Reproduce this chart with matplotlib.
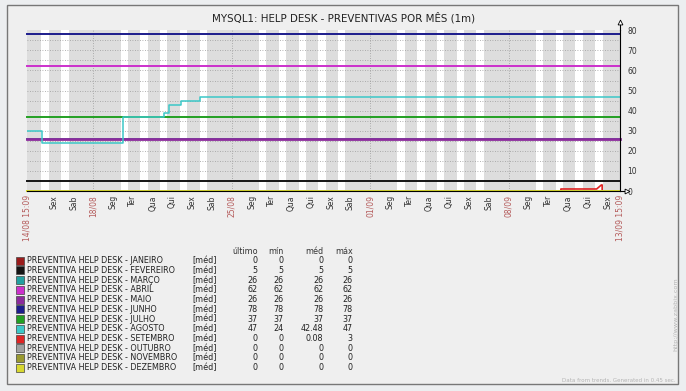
import numpy as np
import pandas as pd
import matplotlib
matplotlib.use("Agg")
import matplotlib.pyplot as plt
from matplotlib.patches import Rectangle

# time window of the graph
START = pd.Timestamp("2014-08-14 15:09")
END = pd.Timestamp("2014-09-13 15:09")

MONTHS = ["JANEIRO", "FEVEREIRO", "MARÇO", "ABRIL", "MAIO", "JUNHO",
          "JULHO", "AGOSTO", "SETEMBRO", "OUTUBRO", "NOVEMBRO", "DEZEMBRO"]
COLORS = ["#9a1c1c", "#141414", "#22a0a0", "#cc30cc", "#8c2a9c", "#1c1c8c",
          "#22a022", "#3cc8c8", "#e02424", "#a0a0a0", "#9a9a30", "#d8d830"]

# months that stayed flat over the whole period (None = see step series below)
FLAT_VALUES = [0, 5, 26, 62, 26, 78, 37, None, None, 0, 0, 0]

AGOSTO_TIMES = ["2014-08-14 15:09", "2014-08-15 09:45", "2014-08-19 12:20",
                "2014-08-21 13:45", "2014-08-21 19:30", "2014-08-22 10:20",
                "2014-08-23 09:20", "2014-09-13 15:09"]
AGOSTO_VALUES = [30, 24, 37, 39, 43, 45, 47, 47]

SETEMBRO_TIMES = ["2014-08-14 15:09", "2014-09-10 15:25", "2014-09-10 15:25",
                  "2014-09-12 10:50", "2014-09-12 16:30", "2014-09-12 17:30",
                  "2014-09-12 17:30", "2014-09-13 15:09"]
SETEMBRO_VALUES = [0, 0, 1, 1, 3, 3, 0, 0]

# legend statistics
ULTIMO = [0, 5, 26, 62, 26, 78, 37, 47, 0, 0, 0, 0]
MINIMO = [0, 5, 26, 62, 26, 78, 37, 24, 0, 0, 0, 0]
MEDIA = [0, 5, 26, 62, 26, 78, 37, 42.48, 0.08, 0, 0, 0]
MAXIMO = [0, 5, 26, 62, 26, 78, 37, 47, 3, 0, 0, 0]

# x labels at each midnight from 16/08 to 13/09
DAY_LABELS = ["Sex", "Sab", "18/08", "Seg", "Ter", "Qua", "Qui", "Sex", "Sab",
              "25/08", "Seg", "Ter", "Qua", "Qui", "Sex", "Sab", "01/09", "Seg",
              "Ter", "Qua", "Qui", "Sex", "Sab", "08/09", "Seg", "Ter", "Qua",
              "Qui", "Sex"]

W, H = 686, 391
fig = plt.figure(figsize=(W / 100, H / 100), dpi=100)
fig.patch.set_facecolor("#eceef0")


def fx(x):
    return x / W


def fy(y):
    return 1 - y / H


# outer frame
fig.patches.append(Rectangle((fx(7), fy(384)), fx(678) - fx(7), fy(5) - fy(384),
                             transform=fig.transFigure, facecolor="#efefef",
                             edgecolor="#777777", lw=1.0, zorder=-10))

ax = fig.add_axes([fx(26.7), fy(191), fx(620) - fx(26.7), fy(30.3) - fy(191)])
ax.set_zorder(1)
ax.set_facecolor("#dddddd")
ax.set_xlim(START, END)
ax.set_ylim(0, 80)

# working hours (white strips) on full days inside the window
for day in pd.date_range("2014-08-15", "2014-09-12", freq="D"):
    if (day - pd.Timedelta(days=1)).weekday() < 5:
        ax.axvspan(day + pd.Timedelta(hours=9), day + pd.Timedelta(hours=18),
                   color="white", lw=0, zorder=0)

# grid
for v in np.arange(5, 80, 5):
    ax.axhline(v, color="#9a9a9a", lw=0.6, ls=(0, (1, 2)), zorder=1)
ticks = list(pd.date_range("2014-08-16", "2014-09-13", freq="D"))
for t, lab in zip(ticks, DAY_LABELS):
    if "/" in lab:
        ax.axvline(t, color="#9a9a9a", lw=0.6, ls=(0, (1, 2)), zorder=1)

# series
for i, name in enumerate(MONTHS):
    if name == "AGOSTO":
        ax.step(pd.to_datetime(AGOSTO_TIMES), AGOSTO_VALUES, where="post",
                color=COLORS[i], lw=1.1, zorder=2)
    elif name == "SETEMBRO":
        ax.plot(pd.to_datetime(SETEMBRO_TIMES), SETEMBRO_VALUES,
                color=COLORS[i], lw=1.2, zorder=2)
    else:
        ax.plot([START, END], [FLAT_VALUES[i], FLAT_VALUES[i]],
                color=COLORS[i], lw=1.4 if name != "MAIO" else 2.0,
                zorder=2, clip_on=False)

# axes
for s in ["top", "left"]:
    ax.spines[s].set_visible(False)
ax.spines["right"].set_color("black")
ax.spines["bottom"].set_color("black")
ax.spines["right"].set_linewidth(0.8)
ax.spines["bottom"].set_linewidth(0.8)
ax.plot([1, 1], [1, 1.05], transform=ax.transAxes, color="black", lw=0.8, clip_on=False)
ax.plot([1], [1.05], transform=ax.transAxes, marker="^", ms=3.5, mfc="white",
        mec="black", mew=0.6, clip_on=False)
ax.plot([1, 1.012], [0, 0], transform=ax.transAxes, color="black", lw=0.8, clip_on=False)
ax.plot([1.012], [0], transform=ax.transAxes, marker=">", ms=3.5, mfc="white",
        mec="black", mew=0.6, clip_on=False)

ax.yaxis.tick_right()
ax.set_yticks(np.arange(0, 81, 10))
ax.tick_params(axis="y", length=0, pad=5.5, labelsize=5.5, labelcolor="#333333")

xt = [START] + ticks[:-1] + [ticks[-1], END]
xl = ["14/08 15:09"] + DAY_LABELS + ["13/09 15:09"]
ax.set_xticks(xt)
ax.set_xticklabels(xl, rotation=90, fontsize=5.5)
ax.tick_params(axis="x", length=0, pad=3)
for lab in ax.get_xticklabels():
    lab.set_color("#b45a5a" if "/" in lab.get_text() else "#333333")

fig.text(fx(343.5), fy(18), "MYSQL1: HELP DESK - PREVENTIVAS POR MÊS (1m)",
         ha="center", va="center", fontsize=7.4, color="#222222")

# legend table
fs = 5.75
cols = [257.7, 283.3, 323.3, 352.7]
for c, head in zip(cols, ["último", "mín", "méd", "máx"]):
    fig.text(fx(c), fy(251.7), head, ha="right", va="center", fontsize=fs, color="#333333")
for i, name in enumerate(MONTHS):
    y = 260.7 + i * 9.73
    fig.patches.append(Rectangle((fx(16), fy(y + 4)), fx(8), 8 / H,
                                 transform=fig.transFigure, facecolor=COLORS[i],
                                 edgecolor="#444444", lw=0.5))
    fig.text(fx(26.7), fy(y), "PREVENTIVA HELP DESK - " + name, ha="left",
             va="center", fontsize=fs, color="#222222")
    fig.text(fx(192.7), fy(y), "[méd]", ha="left", va="center", fontsize=fs, color="#222222")
    for c, v in zip(cols, [ULTIMO[i], MINIMO[i], MEDIA[i], MAXIMO[i]]):
        fig.text(fx(c), fy(y), f"{v:g}", ha="right", va="center", fontsize=fs, color="#222222")

fig.text(fx(675.5), fy(314), "http://www.zabbix.com", rotation=90, ha="center",
         va="center", fontsize=4.6, color="#b4b4b4")
fig.text(fx(676), fy(380), "Data from trends. Generated in 0.45 sec.", ha="right",
         va="center", fontsize=4.0, color="#b4b4b4")

fig.savefig("out.png", dpi=100, facecolor=fig.get_facecolor())
